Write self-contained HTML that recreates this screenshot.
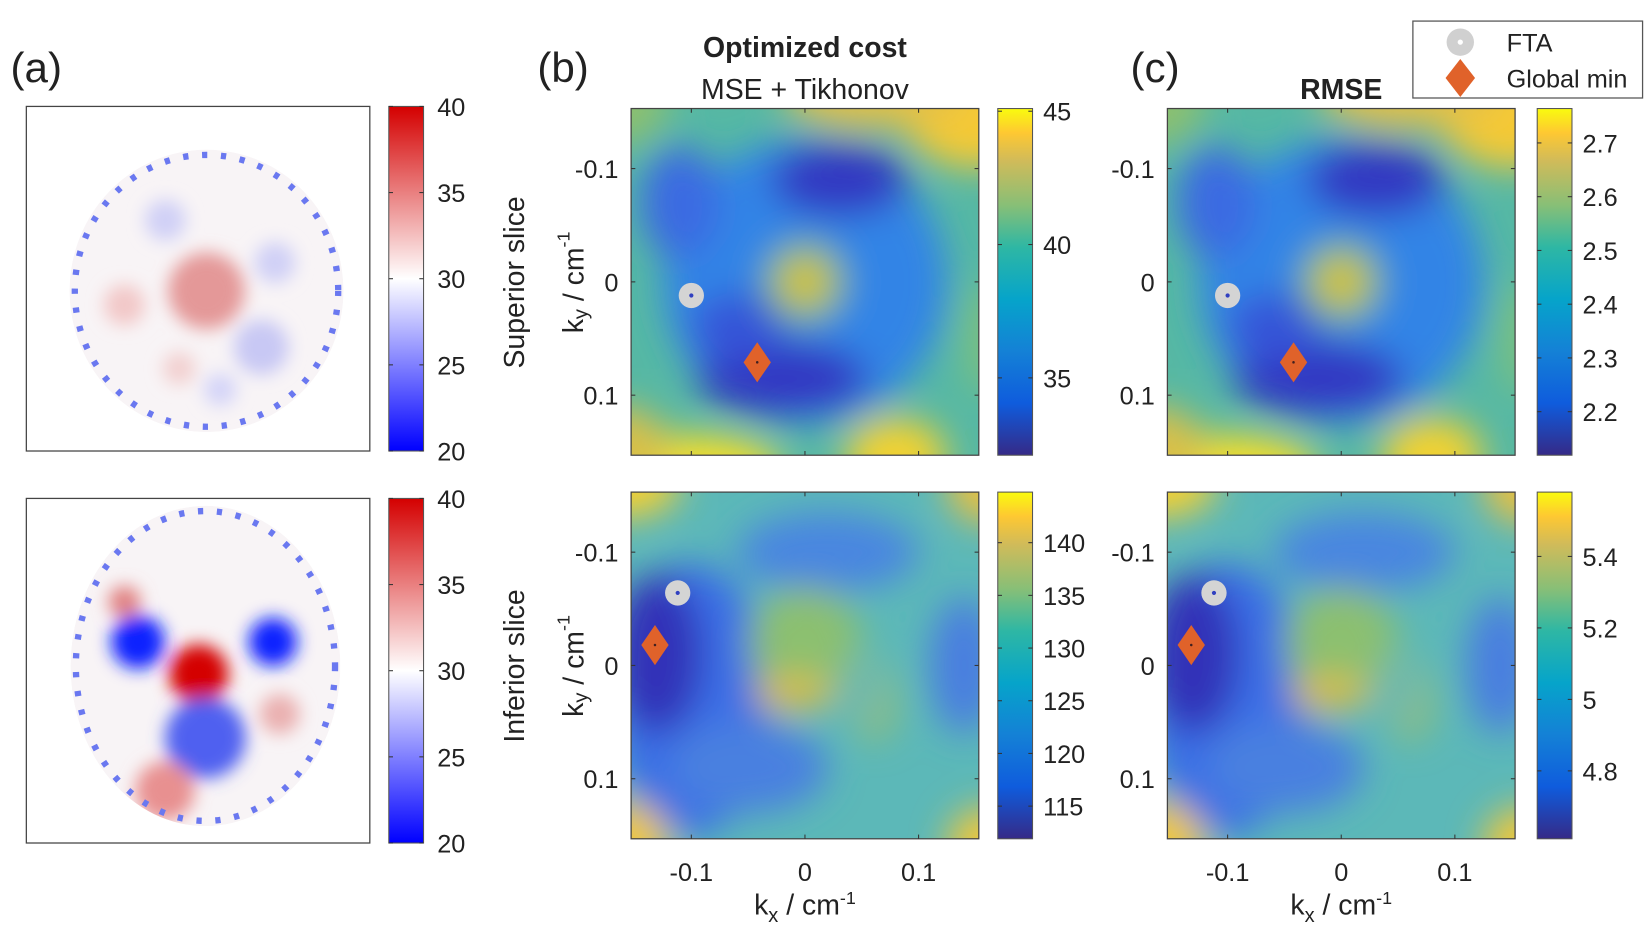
<!DOCTYPE html>
<html><head><meta charset="utf-8"><style>
html,body{margin:0;padding:0;background:#fff;}
svg{display:block;}
text{font-family:"Liberation Sans",sans-serif;fill:#222;}
</style></head><body>
<svg id="fig" width="1651" height="941" viewBox="0 0 1567 893" preserveAspectRatio="none">
<defs>
<linearGradient id="parula" x1="0" y1="1" x2="0" y2="0">
<stop offset="0" stop-color="#352a87"/><stop offset="0.15" stop-color="#0f5cdd"/><stop offset="0.3" stop-color="#1481d6"/><stop offset="0.45" stop-color="#06a4ca"/><stop offset="0.6" stop-color="#2eb7a4"/><stop offset="0.72" stop-color="#87bf77"/><stop offset="0.85" stop-color="#d1bb59"/><stop offset="0.93" stop-color="#fec832"/><stop offset="1" stop-color="#f9fb0e"/>
</linearGradient>
<linearGradient id="bwr" x1="0" y1="1" x2="0" y2="0">
<stop offset="0" stop-color="#0000ff"/><stop offset="0.5" stop-color="#ffffff"/><stop offset="1" stop-color="#d40000"/>
</linearGradient>
<filter id="blur" x="-20%" y="-20%" width="140%" height="140%"><feGaussianBlur stdDeviation="17"/></filter>
<filter id="blurA" x="-20%" y="-20%" width="140%" height="140%"><feGaussianBlur stdDeviation="8"/></filter>
</defs>
<g id="root"></g>
</svg>
<script>
// ---- data ----
const kxTicks=[-0.1,0,0.1];
const kxTickLabels=['-0.1','0','0.1'];
const kyTicks=[-0.1,0,0.1];
const kyTickLabels=['-0.1','0','0.1'];
const cbTopBVals=[45,40,35]; const cbTopBRange=[32.1,45.1];
const cbBotBVals=[140,135,130,125,120,115]; const cbBotBRange=[111.9,144.8];
const cbTopCVals=[2.7,2.6,2.5,2.4,2.3,2.2]; const cbTopCRange=[2.119,2.764];
const cbBotCVals=[5.4,5.2,5,4.8]; const cbBotCRange=[4.61,5.58];
const cbAVals=[40,35,30,25,20]; const cbARange=[20,40];
const ftaTop=[-0.1,0.012], minTop=[-0.042,0.071];
const ftaBot=[-0.112,-0.064], minBot=[-0.132,-0.018];
const topBlobX=[0,-0.11,0.03,-0.02,-0.06,0,0,0.15,0.06,-0.1,0.08,-0.16,-0.16,0.16];
const topBlobY=[0,-0.07,-0.09,0.085,0.04,0,0,-0.16,-0.165,0.165,0.155,0.15,-0.16,0.05];
const topBlobRx=[0.125,0.035,0.06,0.075,0.04,0.035,0.016,0.07,0.08,0.08,0.045,0.04,0.04,0.02];
const topBlobRy=[0.125,0.05,0.032,0.032,0.03,0.035,0.016,0.06,0.03,0.03,0.035,0.04,0.04,0.05];
const topBlobC=['#3184e6','#3a6ae2','#3239c2','#3239c2','#3555d8','#8fc160','#f0c030','#f5c935','#e2c048','#f7de2a','#f2d230','#d8c048','#8cc070','#7cc080'];
const botBlobX=[-0.1,-0.13,0.02,0.14,-0.05,0,-0.01,0.06,-0.16,-0.16,0.16,0.16,0.05];
const botBlobY=[0.03,-0.01,-0.1,0,0.09,-0.02,0.025,0.03,-0.16,0.16,0.16,-0.16,0.02];
const botBlobRx=[0.07,0.04,0.08,0.03,0.07,0.05,0.035,0.02,0.05,0.04,0.035,0.035,0.02];
const botBlobRy=[0.12,0.07,0.035,0.06,0.04,0.05,0.015,0.035,0.03,0.04,0.035,0.035,0.03];
const botBlobC=['#3a6ee6','#3030b8','#4a86e0','#4a7ee0','#4a80e0','#8cc070','#e0bc40','#9cc060','#f5d030','#f0c83a','#f0c83a','#e8c040','#6cb8b0'];
const aTopX=[0,-0.3,0.4,-0.6,0.5,0.1,-0.2];
const aTopY=[0,-0.5,0.4,0.1,-0.2,0.7,0.55];
const aTopR=[0.28,0.15,0.2,0.15,0.15,0.12,0.12];
const aTopC=['#e49898','#d0d0f6','#c8c8f4','#f2c8c8','#d0d0f6','#d4d4f8','#f2d0d0'];
const aBotX=[-0.05,0.0,-0.5,0.5,-0.3,0.55,-0.6];
const aBotY=[0.05,0.45,-0.15,-0.15,0.78,0.3,-0.4];
const aBotR=[0.22,0.3,0.2,0.18,0.22,0.15,0.12];
const aBotC=['#d40000','#5060f0','#1020ff','#1020ff','#e89090','#eab0b0','#e08080'];

const NS='http://www.w3.org/2000/svg';
const root=document.getElementById('root');
function mk(tag,attrs,parent){const e=document.createElementNS(NS,tag);for(const k in attrs)e.setAttribute(k,attrs[k]);(parent||root).appendChild(e);return e;}
function txt(x,y,s,size,parent,extra){const t=mk('text',Object.assign({x:x,y:y,'font-size':size},extra||{}),parent);t.textContent=s;return t;}

function heatmap(name,x0,y0,base,bx,by,brx,bry,bc,fta,mn,showX,showY){
  const W=330,H=329,K=0.153;
  const sx=k=>x0+(k+K)/(2*K)*W, sy=k=>y0+(k+K)/(2*K)*H, sr=k=>k/(2*K)*W;
  const g=mk('g',{});
  
  
  const cid='clip-'+name;
  const cp=mk('clipPath',{id:cid},g); mk('rect',{x:x0,y:y0,width:W,height:H},cp);
  const inner=mk('g',{'clip-path':'url(#'+cid+')'},g);
  mk('rect',{x:x0-20,y:y0-20,width:W+40,height:H+40,fill:base},inner);
  const bl=mk('g',{filter:'url(#blur)'},inner);
  for(let i=0;i<bx.length;i++){
    const e=mk('ellipse',{cx:sx(bx[i]),cy:sy(by[i]),rx:sr(brx[i]),ry:sr(bry[i]),fill:bc[i]},bl);
    
    
  }
  mk('rect',{x:x0,y:y0,width:W,height:H,fill:'none',stroke:'#444','stroke-width':1.2},g);
  kxTicks.forEach((t,i)=>{
    mk('line',{x1:sx(t),y1:y0,x2:sx(t),y2:y0+4,stroke:'#333'},g);
    mk('line',{x1:sx(t),y1:y0+H,x2:sx(t),y2:y0+H-4,stroke:'#333'},g);
    if(showX){const l=txt(sx(t),y0+H+40,kxTickLabels[i],24,g,{'text-anchor':'middle'});
      
      }
  });
  kyTicks.forEach((t,i)=>{
    mk('line',{x1:x0,y1:sy(t),x2:x0+4,y2:sy(t),stroke:'#333'},g);
    mk('line',{x1:x0+W,y1:sy(t),x2:x0+W-4,y2:sy(t),stroke:'#333'},g);
    if(showY){const l=txt(x0-12,sy(t)+9,kyTickLabels[i],24,g,{'text-anchor':'end'});
      
      }
  });
  const c=mk('circle',{cx:sx(fta[0]),cy:sy(fta[1]),r:12,fill:'#d4d4d4'},g);
  
  
  mk('circle',{cx:sx(fta[0]),cy:sy(fta[1]),r:2,fill:'#3040c0'},g);
  const dx=sx(mn[0]),dy=sy(mn[1]);
  const d=mk('polygon',{points:`${dx},${dy-19} ${dx+13},${dy} ${dx},${dy+19} ${dx-13},${dy}`,fill:'#e0622a'},g);
  
  
  mk('circle',{cx:dx,cy:dy,r:1.2,fill:'#402020'},g);
}
function colorbar(name,x0,y0,h,grad,vals,range,labelX){
  const g=mk('g',{});
  
  
  mk('rect',{x:x0,y:y0,width:33,height:h,fill:'url(#'+grad+')',stroke:'#555','stroke-width':1},g);
  vals.forEach(v=>{
    const y=y0+h-(v-range[0])/(range[1]-range[0])*h;
    mk('line',{x1:x0+33,y1:y,x2:x0+29,y2:y,stroke:'#333'},g);
    mk('line',{x1:x0,y1:y,x2:x0+4,y2:y,stroke:'#333'},g);
    const t=txt(labelX,y+9,String(v),24,g);
    
    
  });
}
function panelA(name,x0,y0,ecx,ecy,erx,ery,bx,by,br,bc){
  const g=mk('g',{});
  
  
  mk('rect',{x:x0,y:y0,width:326,height:327,fill:'#fff',stroke:'#444','stroke-width':1.2},g);
  const cid='clip-'+name;
  const cp=mk('clipPath',{id:cid},g); mk('ellipse',{cx:ecx,cy:ecy,rx:erx,ry:ery},cp);
  const inner=mk('g',{'clip-path':'url(#'+cid+')'},g);
  mk('ellipse',{cx:ecx,cy:ecy,rx:erx,ry:ery,fill:'#f8f4f6'},inner);
  const bl=mk('g',{filter:'url(#blurA)'},inner);
  for(let i=0;i<bx.length;i++){
    const e=mk('circle',{cx:ecx+bx[i]*erx,cy:ecy+by[i]*ery,r:br[i]*erx,fill:bc[i]},bl);
    
    
  }
  mk('ellipse',{cx:ecx,cy:ecy,rx:erx-5,ry:ery-5,fill:'none',stroke:'#6a78f0','stroke-width':6,'stroke-dasharray':'5 13'},inner);
}
panelA('superior-field-map',25,101,196,276,130,134,aTopX,aTopY,aTopR,aTopC);
panelA('inferior-field-map',25,473,195,632,128,152,aBotX,aBotY,aBotR,aBotC);
colorbar('colorbar-a-top',369,101,327,'bwr',cbAVals,cbARange,415);
colorbar('colorbar-a-bottom',369,473,327,'bwr',cbAVals,cbARange,415);
heatmap('cost-superior',599,103,'#56b8a4',topBlobX,topBlobY,topBlobRx,topBlobRy,topBlobC,ftaTop,minTop,false,true);
heatmap('cost-inferior',599,467,'#5cb8b8',botBlobX,botBlobY,botBlobRx,botBlobRy,botBlobC,ftaBot,minBot,true,true);
heatmap('rmse-superior',1108,103,'#56b8a4',topBlobX,topBlobY,topBlobRx,topBlobRy,topBlobC,ftaTop,minTop,false,true);
heatmap('rmse-inferior',1108,467,'#5cb8b8',botBlobX,botBlobY,botBlobRx,botBlobRy,botBlobC,ftaBot,minBot,true,true);
colorbar('colorbar-cost-superior',947,103,329,'parula',cbTopBVals,cbTopBRange,990);
colorbar('colorbar-cost-inferior',947,467,329,'parula',cbBotBVals,cbBotBRange,990);
colorbar('colorbar-rmse-superior',1459,103,329,'parula',cbTopCVals,cbTopCRange,1502);
colorbar('colorbar-rmse-inferior',1459,467,329,'parula',cbBotCVals,cbBotCRange,1502);
</script>
<script>
const fig=document.getElementById('fig');
function T(x,y,s,size,name,extra){const t=document.createElementNS('http://www.w3.org/2000/svg','text');t.setAttribute('x',x);t.setAttribute('y',y);t.setAttribute('font-size',size);for(const k in (extra||{}))t.setAttribute(k,extra[k]);t.innerHTML=s;


fig.appendChild(t);return t;}
T(10,78,'(a)',40,'panel-label-a');
T(510,78,'(b)',40,'panel-label-b');
T(1073,78,'(c)',40,'panel-label-c');
T(764,54,'Optimized cost',27,'title-optimized-cost',{'text-anchor':'middle','font-weight':'bold'});
T(764,94,'MSE + Tikhonov',27,'subtitle-mse-tikhonov',{'text-anchor':'middle'});
T(1273,94,'RMSE',27,'title-rmse',{'text-anchor':'middle','font-weight':'bold'});
T(490,268,'Superior slice',27,'row-label-superior',{'text-anchor':'middle',transform:'rotate(-90 490 268)','dominant-baseline':'middle'});
T(490,632,'Inferior slice',27,'row-label-inferior',{'text-anchor':'middle',transform:'rotate(-90 490 632)','dominant-baseline':'middle'});
T(546,268,'k<tspan font-size="19" dy="7">y</tspan><tspan dy="-7"> / cm</tspan><tspan font-size="17" dy="-10">-1</tspan>',27,'y-axis-title-top',{'text-anchor':'middle',transform:'rotate(-90 546 268)','dominant-baseline':'middle'});
T(546,632,'k<tspan font-size="19" dy="7">y</tspan><tspan dy="-7"> / cm</tspan><tspan font-size="17" dy="-10">-1</tspan>',27,'y-axis-title-bottom',{'text-anchor':'middle',transform:'rotate(-90 546 632)','dominant-baseline':'middle'});
T(764,868,'k<tspan font-size="19" dy="7">x</tspan><tspan dy="-7"> / cm</tspan><tspan font-size="17" dy="-10">-1</tspan>',27,'x-axis-title-b',{'text-anchor':'middle'});
T(1273,868,'k<tspan font-size="19" dy="7">x</tspan><tspan dy="-7"> / cm</tspan><tspan font-size="17" dy="-10">-1</tspan>',27,'x-axis-title-c',{'text-anchor':'middle'});
const NS2='http://www.w3.org/2000/svg';
const lg=document.createElementNS(NS2,'g');


fig.appendChild(lg);
lg.innerHTML='<rect x="1341" y="20" width="218" height="73" fill="#fff" stroke="#555" stroke-width="1.2"/>'+
'<circle cx="1386" cy="40" r="13" fill="#d0d0d0"/><circle cx="1386" cy="40" r="2.5" fill="#fff"/>'+
'<polygon points="1386,56 1400,74 1386,92 1372,74" fill="#e0622a"/>'+
'<text x="1430" y="49" font-size="24">FTA</text><text x="1430" y="83" font-size="24">Global min</text>';
</script>
</body></html>
